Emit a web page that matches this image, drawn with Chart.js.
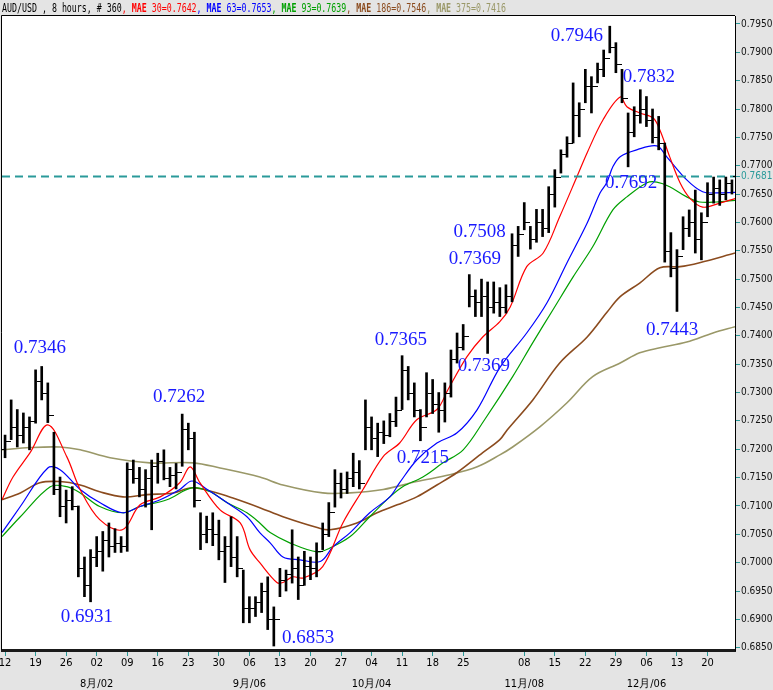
<!DOCTYPE html>
<html>
<head>
<meta charset="utf-8">
<script src="https://cdn.jsdelivr.net/npm/chart.js@4.4.0/dist/chart.umd.min.js"></script>
<style>
  html, body { margin: 0; padding: 0; background: #e4e4e4; }
  #wrap { width: 773px; height: 690px; }
</style>
</head>
<body>
<div id="wrap"><canvas id="chart" width="773" height="690"></canvas></div>
<script>
// AUD/USD daily ranges (index = trading day from Wed 12 Jul)
const highs = [
  0.7225, 0.7287, 0.7270, 0.7264, 0.7257, 0.7340, 0.7346, 0.7317, 0.7230, 0.7151,
  0.7128, 0.7134, 0.7100, 0.7010, 0.7023, 0.7046, 0.7055, 0.7070, 0.7060, 0.7046,
  0.7176, 0.7181, 0.7168, 0.7164, 0.7181, 0.7193, 0.7199, 0.7168, 0.7175, 0.7262,
  0.7246, 0.7230, 0.7088, 0.7082, 0.7088, 0.7075, 0.7046, 0.7081, 0.7046, 0.6987,
  0.6940, 0.6940, 0.6964, 0.6975, 0.6922, 0.6990, 0.6987, 0.7058, 0.7010, 0.7020,
  0.7010, 0.7035, 0.7070, 0.7106, 0.7164, 0.7158, 0.7160, 0.7193, 0.7180, 0.7287,
  0.7257, 0.7246, 0.7250, 0.7263, 0.7292, 0.7365, 0.7346, 0.7317, 0.7270, 0.7335,
  0.7323, 0.7300, 0.7317, 0.7375, 0.7405, 0.7420, 0.7508, 0.7481, 0.7500, 0.7495,
  0.7495, 0.7485, 0.7490, 0.7580, 0.7593, 0.7635, 0.7593, 0.7623, 0.7623, 0.7663,
  0.7693, 0.7728, 0.7751, 0.7846, 0.7811, 0.7870, 0.7857, 0.7881, 0.7904, 0.7946,
  0.7917, 0.7870, 0.7793, 0.7804, 0.7834, 0.7822, 0.7800, 0.7787, 0.7740, 0.7582,
  0.7552, 0.7610, 0.7622, 0.7657, 0.7617, 0.7670, 0.7680, 0.7675, 0.7680, 0.7675
];
const lows = [
  0.7185, 0.7217, 0.7204, 0.7211, 0.7199, 0.7246, 0.7287, 0.7247, 0.7120, 0.7081,
  0.7070, 0.7093, 0.6975, 0.6940, 0.6931, 0.6993, 0.6985, 0.7010, 0.7018, 0.7018,
  0.7020, 0.7140, 0.7116, 0.7098, 0.7058, 0.7140, 0.7146, 0.7134, 0.7130, 0.7170,
  0.7199, 0.7098, 0.7023, 0.7035, 0.7030, 0.7005, 0.6965, 0.6993, 0.6975, 0.6894,
  0.6894, 0.6905, 0.6912, 0.6882, 0.6853, 0.6940, 0.6950, 0.6964, 0.6935, 0.6960,
  0.6970, 0.6975, 0.7023, 0.7046, 0.7098, 0.7114, 0.7122, 0.7134, 0.7130, 0.7199,
  0.7199, 0.7187, 0.7210, 0.7222, 0.7240, 0.7270, 0.7287, 0.7257, 0.7215, 0.7257,
  0.7263, 0.7230, 0.7248, 0.7292, 0.7352, 0.7375, 0.7451, 0.7434, 0.7434, 0.7369,
  0.7440, 0.7434, 0.7440, 0.7460, 0.7540, 0.7587, 0.7553, 0.7565, 0.7575, 0.7582,
  0.7627, 0.7687, 0.7715, 0.7740, 0.7751, 0.7811, 0.7793, 0.7846, 0.7857, 0.7899,
  0.7864, 0.7811, 0.7698, 0.7751, 0.7775, 0.7769, 0.7740, 0.7728, 0.7530, 0.7504,
  0.7443, 0.7552, 0.7575, 0.7546, 0.7534, 0.7610, 0.7634, 0.7630, 0.7640, 0.7650
];
const closes = [
  0.7215, 0.7240, 0.7225, 0.7240, 0.7250, 0.7320, 0.7300, 0.7260, 0.7130, 0.7100,
  0.7110, 0.7100, 0.6990, 0.6960, 0.7010, 0.7020, 0.7040, 0.7030, 0.7035, 0.7030,
  0.7165, 0.7150, 0.7130, 0.7150, 0.7170, 0.7180, 0.7150, 0.7155, 0.7160, 0.7235,
  0.7220, 0.7110, 0.7050, 0.7060, 0.7050, 0.7020, 0.7030, 0.7010, 0.6990, 0.6920,
  0.6920, 0.6930, 0.6950, 0.6900, 0.6900, 0.6970, 0.6980, 0.6990, 0.6960, 0.6995,
  0.6990, 0.7020, 0.7050, 0.7090, 0.7140, 0.7130, 0.7150, 0.7160, 0.7140, 0.7240,
  0.7220, 0.7230, 0.7225, 0.7250, 0.7270, 0.7340, 0.7300, 0.7270, 0.7240, 0.7300,
  0.7280, 0.7270, 0.7300, 0.7360, 0.7380, 0.7400, 0.7470, 0.7460, 0.7470, 0.7450,
  0.7460, 0.7450, 0.7470, 0.7560, 0.7580, 0.7600, 0.7570, 0.7600, 0.7590, 0.7650,
  0.7680, 0.7720, 0.7740, 0.7790, 0.7800, 0.7840, 0.7840, 0.7870, 0.7890, 0.7910,
  0.7880, 0.7820, 0.7760, 0.7790, 0.7800, 0.7780, 0.7750, 0.7740, 0.7550, 0.7520,
  0.7540, 0.7590, 0.7600, 0.7570, 0.7600, 0.7650, 0.7660, 0.7650, 0.7670, 0.7681
];
const firstOpen = 0.7200;

// moving averages, [trading day, price]
const ma30 = [
  [-0.5,0.7111],[1.3,0.7151],[4.1,0.7194],[7.0,0.7243],[10.1,0.7187],[12.3,0.7129],
  [15.5,0.7076],[19.2,0.7058],[22.1,0.7102],[25.4,0.7116],[28.6,0.7141],[30.3,0.7169],
  [31.9,0.7141],[35.2,0.7093],[38.5,0.7070],[40.1,0.7023],[41.7,0.7000],[44.5,0.6965],
  [45.5,0.6965],[47.1,0.6975],[48.8,0.6973],[52.0,0.6993],[55.3,0.7070],[58.6,0.7129],
  [61.9,0.7187],[64.6,0.7211],[67.4,0.7252],[70.7,0.7270],[72.5,0.7305],[75.6,0.7363],
  [78.2,0.7398],[81.0,0.7425],[82.7,0.7451],[85.4,0.7522],[88.1,0.7546],[90.8,0.7610],
  [93.6,0.7680],[95.3,0.7723],[97.9,0.7781],[100.7,0.7821],[101.8,0.7804],[103.9,0.7793],
  [106.1,0.7784],[107.2,0.7763],[108.8,0.7716],[110.5,0.7670],[112.1,0.7643],[114.2,0.7627],
  [117.0,0.7634],[119.5,0.7642]
];
const ma63 = [
  [-0.5,0.7053],[2.5,0.7099],[7.0,0.7167],[9.0,0.7164],[12.3,0.7129],[15.5,0.7106],
  [19.2,0.7088],[22.1,0.7099],[25.4,0.7111],[28.6,0.7129],[30.6,0.7144],[33.1,0.7129],
  [36.3,0.7106],[39.6,0.7081],[41.7,0.7053],[43.4,0.7035],[45.5,0.7010],[48.3,0.7005],
  [51.6,0.7002],[53.7,0.7028],[56.5,0.7053],[59.7,0.7088],[63.0,0.7116],[64.6,0.7141],
  [67.4,0.7181],[70.7,0.7211],[74.0,0.7229],[77.3,0.7270],[81.0,0.7344],[85.4,0.7405],
  [88.7,0.7458],[92.0,0.7529],[95.3,0.7599],[97.4,0.7652],[98.5,0.7670],[99.5,0.7698],
  [100.7,0.7716],[103.4,0.7728],[106.7,0.7735],[108.3,0.7716],[111.6,0.7675],[114.2,0.7654],
  [116.5,0.7652],[119.5,0.7653]
];
const ma93 = [
  [-0.5,0.7046],[2.5,0.7081],[7.4,0.7134],[10.1,0.7134],[12.3,0.7123],[15.5,0.7099],
  [19.3,0.7088],[22.1,0.7099],[26.5,0.7111],[30.6,0.7132],[33.6,0.7125],[36.3,0.7106],
  [39.6,0.7088],[41.7,0.7070],[43.4,0.7053],[46.6,0.7035],[51.1,0.7019],[53.2,0.7026],
  [56.5,0.7046],[59.7,0.7081],[63.0,0.7116],[65.1,0.7134],[68.4,0.7151],[71.7,0.7176],
  [75.0,0.7199],[78.5,0.7252],[83.1,0.7328],[86.4,0.7388],[89.7,0.7446],[93.0,0.7504],
  [96.2,0.7557],[99.5,0.7622],[101.8,0.7645],[105.1,0.7670],[106.7,0.7671],[108.8,0.7663],
  [111.6,0.7645],[113.7,0.7636],[116.5,0.7636],[119.5,0.7639]
];
const ma186 = [
  [-0.5,0.7111],[2.5,0.7123],[5.7,0.7141],[9.0,0.7143],[12.3,0.7137],[15.5,0.7125],
  [19.3,0.7116],[23.2,0.7120],[27.5,0.7123],[30.6,0.7132],[34.0,0.7125],[37.3,0.7114],
  [41.7,0.7097],[45.5,0.7081],[51.1,0.7062],[53.2,0.7058],[57.6,0.7070],[60.9,0.7088],
  [64.2,0.7102],[67.4,0.7116],[70.7,0.7137],[74.0,0.7159],[78.2,0.7194],[81.0,0.7217],
  [82.2,0.7234],[86.4,0.7287],[90.8,0.7352],[95.3,0.7398],[98.5,0.7441],[100.7,0.7469],
  [103.9,0.7493],[107.2,0.7520],[110.5,0.7522],[113.7,0.7529],[119.5,0.7546]
];
const ma375 = [
  [-0.5,0.7199],[4.1,0.7203],[9.0,0.7204],[12.3,0.7199],[17.2,0.7185],[23.7,0.7176],
  [30.8,0.7176],[35.2,0.7167],[41.7,0.7151],[45.5,0.7137],[52.0,0.7123],[56.5,0.7123],
  [61.9,0.7129],[67.4,0.7143],[72.8,0.7155],[77.3,0.7169],[81.0,0.7190],[83.1,0.7204],
  [87.6,0.7240],[92.0,0.7282],[96.2,0.7328],[100.7,0.7352],[103.9,0.7370],[107.2,0.7379],
  [111.6,0.7389],[115.9,0.7405],[119.5,0.7416]
];

const maPeriods = [30, 63, 93, 186, 375];
const maLast = [0.7642, 0.7653, 0.7639, 0.7546, 0.7416];
const maColors = ['#ff0000', '#0000ff', '#00a000', '#8b4b1e', '#9a9868'];
const lastPrice = 0.7681;

// x axis: Wednesdays
const tickDays = [0,5,10,15,20,25,30,35,40,45,50,55,60,65,70,75,85,90,95,100,105,110,115];
const tickLabels = ['12','19','26','02','09','16','23','30','06','13','20','27','04','11','18','25','08','15','22','29','06','13','20'];
const monthLabels = {15: '8月/02', 40: '9月/06', 60: '10月/04', 85: '11月/08', 105: '12月/06'};

const yTicks = [0.6850,0.6900,0.6950,0.7000,0.7050,0.7100,0.7150,0.7200,0.7250,0.7300,0.7350,
  0.7400,0.7450,0.7500,0.7550,0.7600,0.7650,0.7681,0.7700,0.7750,0.7800,0.7850,0.7900,0.7950];

// price call-outs
const notes = [
  {text: '0.7346', day: 5.7, price: 0.7379},
  {text: '0.7262', day: 28.5, price: 0.7292},
  {text: '0.6931', day: 13.4, price: 0.6905},
  {text: '0.6853', day: 49.6, price: 0.6868},
  {text: '0.7365', day: 64.8, price: 0.7393},
  {text: '0.7215', day: 68.4, price: 0.7185},
  {text: '0.7508', day: 77.7, price: 0.7583},
  {text: '0.7369', day: 76.9, price: 0.7536},
  {text: '0.7369', day: 78.4, price: 0.7347},
  {text: '0.7946', day: 93.6, price: 0.7929},
  {text: '0.7832', day: 105.4, price: 0.7857},
  {text: '0.7692', day: 102.5, price: 0.7670},
  {text: '0.7443', day: 109.2, price: 0.7411}
];

const teal = '#2a9a9a';
const axisFont = '"Liberation Sans Narrow", "DejaVu Sans Condensed", "Liberation Sans", sans-serif';

const frame = {
  id: 'frame',
  beforeDraw(chart) {
    const {ctx, chartArea: a} = chart;
    ctx.save();
    ctx.fillStyle = '#e4e4e4';
    ctx.fillRect(0, 0, chart.width, chart.height);
    ctx.fillStyle = '#ffffff';
    ctx.fillRect(a.left, a.top, a.right - a.left, a.bottom - a.top);
    ctx.restore();
  },
  afterDraw(chart) {
    const {ctx, chartArea: a} = chart;
    ctx.save();
    ctx.strokeStyle = '#000';
    ctx.lineWidth = 1;
    ctx.beginPath();
    ctx.moveTo(a.left - 0.5, a.bottom);
    ctx.lineTo(a.left - 0.5, a.top - 0.5);
    ctx.lineTo(a.right, a.top - 0.5);
    ctx.stroke();

    // header line with the moving average values
    const parts = [['AUD/USD , 8 hours, # 360', '#000', false]];
    maPeriods.forEach((p, k) => {
      parts.push([', ', maColors[k], false]);
      parts.push(['MAE', maColors[k], true]);
      parts.push([' ' + p + '=' + maLast[k].toFixed(4), maColors[k], false]);
    });
    const base = '12px "DejaVu Sans Mono", monospace';
    const bold = 'bold 12px "DejaVu Sans Mono", monospace';
    let total = 0;
    parts.forEach(pt => { ctx.font = pt[2] ? bold : base; total += ctx.measureText(pt[0]).width; });
    ctx.translate(2, 9);
    ctx.scale(504 / total, 1);
    ctx.textBaseline = 'middle';
    let x = 0;
    parts.forEach(pt => {
      ctx.font = pt[2] ? bold : base;
      ctx.fillStyle = pt[1];
      ctx.fillText(pt[0], x, 0);
      x += ctx.measureText(pt[0]).width;
    });
    ctx.restore();
  }
};

const ohlcTicks = {
  id: 'ohlcTicks',
  afterDatasetsDraw(chart) {
    const {ctx, chartArea: a} = chart;
    const xs = chart.scales.x, ys = chart.scales.y;
    ctx.save();
    ctx.beginPath();
    ctx.rect(a.left, a.top, a.right - a.left, a.bottom - a.top);
    ctx.clip();
    ctx.fillStyle = '#000';
    closes.forEach((c, i) => {
      const o = i === 0 ? firstOpen : closes[i - 1];
      const px = Math.round(xs.getPixelForValue(i));
      ctx.fillRect(px - 3, Math.round(ys.getPixelForValue(o)), 3, 1);
      ctx.fillRect(px + 1, Math.round(ys.getPixelForValue(c)), 3, 1);
    });
    ctx.font = '19px "Liberation Serif", "Times New Roman", serif';
    ctx.fillStyle = '#1a1aff';
    ctx.textAlign = 'center';
    ctx.textBaseline = 'middle';
    notes.forEach(n => {
      ctx.fillText(n.text, xs.getPixelForValue(n.day), ys.getPixelForValue(n.price));
    });
    ctx.restore();
  }
};

const maSets = [ma30, ma63, ma93, ma186, ma375].map((pts, k) => ({
  type: 'line',
  label: 'MAE ' + maPeriods[k],
  data: pts.map(p => ({x: p[0], y: p[1]})),
  borderColor: maColors[k],
  borderWidth: k >= 3 ? 1.6 : 1.2,
  pointRadius: 0,
  tension: 0.35,
  order: 2 + k
}));

new Chart(document.getElementById('chart'), {
  type: 'bar',
  data: {
    datasets: [
      {
        type: 'bar',
        label: 'AUD/USD',
        data: highs.map((h, i) => ({x: i, y: [lows[i], h]})),
        backgroundColor: '#000',
        barThickness: 2,
        order: 0
      },
      {
        type: 'line',
        label: 'last',
        data: [{x: -0.5, y: lastPrice}, {x: 119.5, y: lastPrice}],
        borderColor: teal,
        borderWidth: 2,
        borderDash: [8, 5],
        pointRadius: 0,
        order: 1
      },
      ...maSets
    ]
  },
  options: {
    responsive: false,
    devicePixelRatio: 1,
    animation: false,
    layout: {padding: {left: 2, top: 16, right: 0, bottom: 0}},
    plugins: {legend: {display: false}, tooltip: {enabled: false}},
    scales: {
      x: {
        type: 'linear',
        min: -0.5,
        max: 119.5,
        offset: false,
        afterBuildTicks: s => { s.ticks = tickDays.map(v => ({value: v})); },
        afterFit: s => { s.height = 40; },
        grid: {drawOnChartArea: false, color: teal, tickLength: 6, offset: false},
        border: {color: '#1a1a1a', width: 3},
        ticks: {
          autoSkip: false,
          maxRotation: 0,
          padding: -3,
          color: '#000',
          font: {family: axisFont, size: 11, lineHeight: 1.9},
          callback: (v, i) => monthLabels[v] ? [tickLabels[i], monthLabels[v]] : tickLabels[i]
        }
      },
      y: {
        type: 'linear',
        position: 'right',
        min: 0.6846,
        max: 0.7964,
        afterBuildTicks: s => { s.ticks = yTicks.map(v => ({value: v})); },
        afterFit: s => { s.width = 38; },
        grid: {drawOnChartArea: false, color: teal, tickLength: 5},
        border: {color: '#000', width: 1},
        ticks: {
          autoSkip: false,
          padding: 1,
          color: c => c.tick && c.tick.value === lastPrice ? teal : '#111',
          font: {family: axisFont, size: 10},
          callback: v => v.toFixed(4)
        }
      }
    }
  },
  plugins: [frame, ohlcTicks]
});
</script>
</body>
</html>
